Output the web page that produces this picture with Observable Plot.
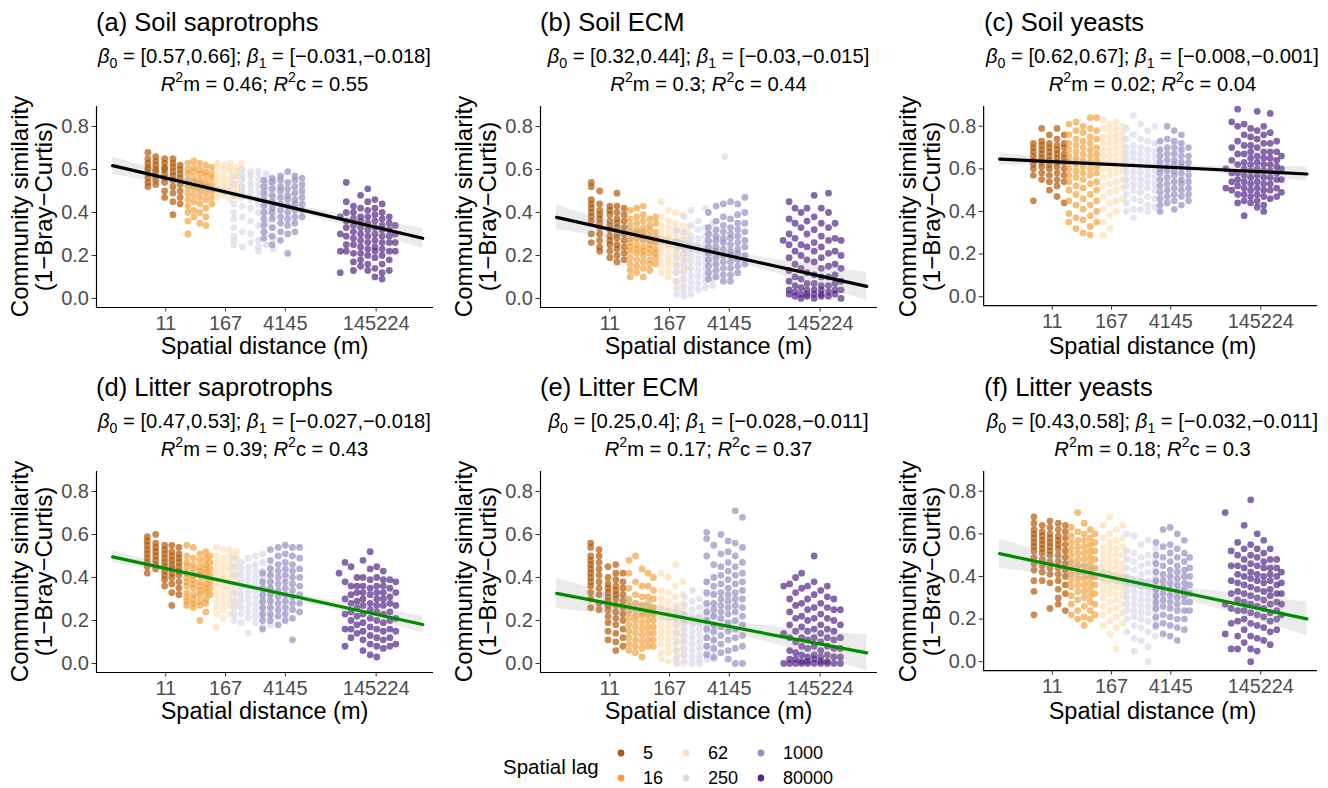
<!DOCTYPE html>
<html><head><meta charset="utf-8">
<script src="https://cdn.jsdelivr.net/npm/d3@7"></script>
<script src="https://cdn.jsdelivr.net/npm/@observablehq/plot@0.6"></script>
<style>
body{margin:0;background:#fff;}
#root{position:relative;width:1328px;height:788px;overflow:hidden;font-family:"Liberation Sans",Arial,sans-serif;}
.panel{position:absolute;}
#overlay{position:absolute;left:0;top:0;pointer-events:none;}
</style></head><body><div id="root"></div>
<script>
// ---------- categories / ticks ----------
const lags = ["5","16","62","250","1000","80000"];
const lagColors = ["#b35806","#f1a340","#fee0b6","#d8daeb","#998ec3","#542788"];
// x axis: position along the (transformed) distance axis; tick labels in metres
const distTicks = [0, 1, 2, 3.52];
const distLabels = ["11","167","4145","145224"];
const simTicks = [0, 0.2, 0.4, 0.6, 0.8];
const xDomain = [-1.16, 4.48];
const yDomain = [-0.042, 0.893];

const panelTitles = ["(a) Soil saprotrophs","(b) Soil ECM","(c) Soil yeasts",
                     "(d) Litter saprotrophs","(e) Litter ECM","(f) Litter yeasts"];
const beta0 = [[0.57,0.66],[0.32,0.44],[0.62,0.67],[0.47,0.53],[0.25,0.4],[0.43,0.58]];
const beta1 = [[-0.031,-0.018],[-0.03,-0.015],[-0.008,-0.001],[-0.027,-0.018],[-0.028,-0.011],[-0.032,-0.011]];
const r2m = [0.46,0.3,0.02,0.39,0.17,0.18];
const r2c = [0.55,0.44,0.04,0.43,0.37,0.3];

// fitted line (endpoints) and confidence band
const fitU = [-0.89, 4.30];
const fitV = [[0.618,0.280],[0.377,0.056],[0.646,0.576],[0.496,0.181],[0.326,0.049],[0.507,0.201]];
const bandU = [-0.89, 0.40, 1.70, 3.00, 4.30];
const bandLo = [[.578,.512,.437,.340,.233],[.320,.265,.196,.099,-.010],[.618,.614,.603,.576,.543],
                [.469,.403,.330,.240,.143],[.254,.217,.163,.072,-.034],[.439,.393,.330,.234,.121]];
const bandHi = [[.658,.556,.461,.390,.327],[.434,.329,.236,.173,.122],[.674,.644,.619,.612,.609],
                [.523,.433,.348,.280,.219],[.398,.297,.213,.164,.132],[.575,.469,.378,.322,.281]];

// ---------- points: [lag, x position, [similarity values in that column]] ----------
const soilSapro = [
 ["5",-0.30,[.68,.65,.63,.61,.60,.58,.56,.54,.52]],
 ["5",-0.17,[.66,.64,.62,.60,.59,.57,.55,.53]],
 ["5",-0.02,[.65,.63,.61,.60,.58,.56,.54,.50,.47]],
 ["5",0.12,[.65,.63,.61,.59,.57,.55,.52,.49,.45,.39]],
 ["5",0.24,[.62,.60,.58,.56,.53,.50,.47,.44]],
 ["16",0.37,[.63,.60,.58,.55,.52,.49,.46,.43,.40,.36,.30]],
 ["16",0.47,[.64,.61,.59,.56,.54,.51,.48,.45,.41,.38]],
 ["16",0.57,[.63,.60,.58,.55,.53,.50,.47,.44,.40,.35]],
 ["16",0.67,[.62,.59,.57,.54,.52,.49,.46,.42,.38,.34]],
 ["16",0.77,[.61,.58,.56,.53,.50,.47,.44]],
 ["62",0.86,[.63,.61,.58,.56,.54,.52,.49,.47]],
 ["62",0.97,[.62,.60,.57,.55,.53,.51,.48]],
 ["62",1.08,[.63,.61,.59,.56,.54,.52,.50,.46]],
 ["62",1.19,[.61,.59,.57,.55,.52,.50,.47]],
 ["62",1.27,[.63,.60,.56,.52,.49]],
 ["250",1.14,[.57,.53,.48,.44,.40,.37,.33,.29,.27,.25]],
 ["250",1.28,[.60,.57,.55,.52,.50,.47,.43,.38,.31,.24]],
 ["250",1.42,[.59,.57,.54,.52,.49,.46,.42,.36,.30,.26]],
 ["250",1.55,[.59,.56,.53,.50,.47,.44,.40,.34,.27,.24,.22]],
 ["250",1.68,[.58,.54,.51,.48,.44,.40,.35,.30,.25]],
 ["250",1.80,[.55,.51,.47,.43,.38,.33,.28,.23]],
 ["1000",1.64,[.55,.52,.49,.46,.43,.40,.37,.34,.31,.28]],
 ["1000",1.78,[.56,.54,.51,.48,.45,.42,.40,.37,.33,.29,.25]],
 ["1000",1.92,[.57,.55,.52,.50,.47,.44,.41,.38,.35,.31,.27]],
 ["1000",2.04,[.59,.54,.51,.48,.46,.43,.40,.37,.34,.30,.21]],
 ["1000",2.16,[.57,.55,.52,.49,.46,.44,.41,.38,.35,.31]],
 ["1000",2.28,[.56,.53,.50,.47,.44,.41,.38]],
 ["80000",2.92,[.38,.30,.22,.12]],
 ["80000",3.02,[.54,.45,.40,.36,.33,.29,.25,.22]],
 ["80000",3.14,[.43,.40,.37,.34,.31,.28,.25,.21,.17,.13]],
 ["80000",3.26,[.48,.42,.38,.36,.33,.30,.27,.24,.21,.18,.15]],
 ["80000",3.38,[.51,.45,.41,.38,.35,.32,.29,.26,.23,.20,.16,.13]],
 ["80000",3.50,[.46,.42,.39,.36,.33,.30,.27,.24,.22,.19,.14,.10]],
 ["80000",3.62,[.44,.40,.37,.34,.32,.29,.26,.23,.20,.16,.12,.09]],
 ["80000",3.74,[.38,.35,.32,.29,.26,.22,.18,.13]],
 ["80000",3.84,[.34,.30,.26,.22]]
];
const soilECM = [
 ["5",-0.31,[.54,.52,.46,.44,.42,.40,.38,.36,.30,.26]],
 ["5",-0.17,[.50,.44,.41,.39,.37,.35,.33,.30,.27,.24,.22]],
 ["5",0.00,[.43,.41,.39,.36,.34,.32,.29,.27,.25,.22,.19]],
 ["5",0.12,[.49,.43,.40,.37,.35,.33,.30,.28,.25,.23,.20,.17]],
 ["5",0.24,[.42,.39,.36,.33,.30,.27,.24,.21,.18]],
 ["16",0.34,[.41,.37,.34,.31,.28,.26,.24,.22,.19,.16,.13,.10]],
 ["16",0.45,[.42,.38,.35,.32,.30,.28,.25,.23,.21,.18,.15,.12]],
 ["16",0.56,[.43,.39,.36,.33,.31,.29,.27,.24,.22,.20,.17,.14,.10]],
 ["16",0.67,[.37,.34,.32,.29,.27,.25,.23,.21,.18,.16,.13]],
 ["16",0.77,[.38,.35,.31,.28,.26,.23,.21,.19,.16]],
 ["62",0.86,[.45,.38,.34,.31,.28,.26,.23,.21,.18,.15,.12]],
 ["62",0.98,[.41,.36,.33,.30,.28,.25,.23,.20,.18,.16,.13,.10]],
 ["62",1.10,[.40,.35,.32,.30,.27,.25,.22,.20,.17,.15,.12,.08]],
 ["62",1.22,[.39,.34,.31,.29,.26,.24,.21,.19,.16,.13,.09,.05]],
 ["62",1.31,[.33,.30,.27,.24,.21,.18,.14]],
 ["250",1.12,[.32,.27,.23,.19,.15,.12,.08,.05,.02]],
 ["250",1.24,[.38,.31,.27,.24,.21,.18,.15,.12,.09,.06,.03,.01]],
 ["250",1.36,[.41,.34,.29,.26,.23,.20,.17,.14,.11,.08,.05,.02]],
 ["250",1.48,[.36,.32,.28,.25,.22,.19,.16,.13,.10,.07,.04]],
 ["250",1.60,[.42,.33,.29,.26,.23,.20,.17,.14,.11,.08,.05]],
 ["250",1.72,[.35,.30,.26,.23,.19,.16,.12,.09,.06]],
 ["250",1.93,[.66]],
 ["1000",1.65,[.40,.33,.30,.27,.24,.21,.18,.15,.12,.09]],
 ["1000",1.78,[.43,.36,.32,.29,.27,.24,.22,.19,.16,.13,.10]],
 ["1000",1.90,[.44,.38,.34,.31,.28,.26,.23,.20,.17,.14,.11,.08]],
 ["1000",2.02,[.45,.37,.33,.30,.28,.25,.22,.20,.17,.14,.11,.08]],
 ["1000",2.14,[.44,.39,.35,.32,.29,.26,.23,.21,.18,.15,.12]],
 ["1000",2.26,[.47,.40,.35,.31,.27,.24,.20,.16]],
 ["80000",2.90,[.27]],
 ["80000",3.00,[.45,.37,.30,.25,.19,.13,.08,.04,.02]],
 ["80000",3.10,[.42,.35,.28,.22,.16,.10,.06,.03,.01]],
 ["80000",3.20,[.40,.33,.25,.20,.14,.09,.05,.02,.00]],
 ["80000",3.30,[.42,.36,.30,.24,.18,.12,.07,.04,.02,.01]],
 ["80000",3.42,[.48,.38,.32,.26,.22,.17,.11,.07,.04,.02,.00]],
 ["80000",3.54,[.42,.35,.29,.24,.19,.14,.10,.06,.04,.02,.01]],
 ["80000",3.66,[.49,.40,.33,.27,.21,.15,.10,.06,.03,.01]],
 ["80000",3.77,[.35,.28,.22,.16,.11,.07,.04,.02]],
 ["80000",3.87,[.27,.20,.14,.08,.04,.00]]
];
const soilYeast = [
 ["5",-0.32,[.72,.70,.68,.66,.64,.62,.60,.57,.45]],
 ["5",-0.18,[.79,.73,.71,.69,.67,.65,.63,.61,.58,.55]],
 ["5",-0.05,[.76,.72,.70,.68,.66,.64,.62,.60,.57,.54,.50]],
 ["5",0.08,[.79,.74,.71,.69,.67,.65,.63,.61,.58,.55,.52,.47]],
 ["5",0.20,[.76,.72,.70,.67,.65,.63,.60,.57,.54,.44]],
 ["16",0.28,[.81,.76,.72,.69,.66,.63,.60,.57,.54,.50,.45,.39,.35]],
 ["16",0.40,[.82,.78,.74,.71,.68,.65,.62,.59,.56,.52,.48,.43,.37,.32]],
 ["16",0.52,[.80,.77,.73,.70,.67,.64,.61,.58,.55,.51,.46,.41,.36,.30]],
 ["16",0.64,[.84,.79,.75,.72,.69,.66,.63,.60,.57,.53,.48,.43,.38,.33,.29]],
 ["16",0.75,[.84,.78,.74,.70,.67,.64,.61,.58,.54,.50,.45,.40,.35]],
 ["62",0.86,[.83,.79,.75,.72,.69,.66,.63,.60,.56,.52,.47,.41,.35,.29]],
 ["62",0.97,[.81,.78,.75,.72,.69,.66,.63,.60,.57,.53,.49,.44,.38,.32]],
 ["62",1.08,[.82,.79,.76,.73,.70,.67,.64,.61,.58,.54,.50,.45,.40]],
 ["62",1.19,[.80,.77,.74,.71,.68,.65,.62,.59,.55,.51,.46]],
 ["250",1.25,[.79,.74,.70,.67,.64,.61,.58,.55,.52,.48,.44,.40]],
 ["250",1.37,[.85,.76,.71,.68,.65,.62,.59,.56,.53,.50,.46,.41,.37]],
 ["250",1.49,[.81,.74,.70,.67,.64,.61,.58,.55,.52,.49,.45,.41]],
 ["250",1.61,[.78,.73,.69,.66,.63,.60,.57,.54,.51,.47,.43,.40]],
 ["250",1.73,[.80,.72,.68,.65,.62,.59,.56,.53,.50,.46,.42]],
 ["1000",1.82,[.73,.69,.66,.63,.60,.58,.55,.52,.49,.46,.43,.40]],
 ["1000",1.94,[.80,.74,.70,.67,.64,.61,.59,.56,.53,.50,.47,.44]],
 ["1000",2.06,[.78,.73,.70,.67,.64,.62,.59,.57,.54,.51,.48,.45,.41]],
 ["1000",2.18,[.76,.72,.69,.66,.63,.61,.58,.55,.53,.50,.47,.43]],
 ["1000",2.30,[.70,.66,.63,.60,.57,.54,.51,.48,.45]],
 ["80000",2.93,[.60,.51]],
 ["80000",3.03,[.82,.70,.64,.58,.54,.50]],
 ["80000",3.13,[.88,.80,.73,.67,.62,.58,.55,.52,.48,.44]],
 ["80000",3.24,[.81,.76,.71,.67,.63,.60,.57,.54,.51,.48,.45,.38]],
 ["80000",3.35,[.79,.75,.71,.68,.65,.62,.59,.56,.53,.50,.47,.44]],
 ["80000",3.46,[.87,.78,.74,.70,.66,.63,.60,.57,.54,.51,.48,.45,.42]],
 ["80000",3.57,[.80,.76,.72,.68,.65,.62,.59,.56,.53,.50,.47,.43,.40]],
 ["80000",3.68,[.86,.77,.72,.68,.65,.62,.59,.56,.53,.50,.46]],
 ["80000",3.79,[.73,.68,.64,.61,.58,.55,.51,.47]],
 ["80000",3.87,[.66,.60,.55,.49]]
];
const litterSapro = [
 ["5",-0.31,[.59,.57,.55,.53,.51,.49,.47,.45,.42]],
 ["5",-0.17,[.60,.56,.54,.52,.50,.48,.46,.44]],
 ["5",-0.02,[.55,.53,.51,.49,.47,.45,.43,.41,.39,.36]],
 ["5",0.10,[.55,.52,.50,.48,.46,.44,.42,.40,.37,.33,.27]],
 ["5",0.22,[.54,.51,.49,.47,.45,.43,.41,.38,.35,.32]],
 ["16",0.35,[.55,.50,.47,.45,.42,.40,.38,.36,.33,.31,.29,.27]],
 ["16",0.46,[.54,.49,.46,.44,.41,.39,.37,.35,.32,.30,.28,.26]],
 ["16",0.57,[.51,.48,.45,.43,.41,.38,.36,.34,.32,.29,.27,.20]],
 ["16",0.67,[.52,.49,.46,.44,.42,.40,.37,.35,.33,.30,.28,.24]],
 ["16",0.74,[.50,.47,.44,.41,.38,.35,.32]],
 ["62",0.85,[.54,.50,.47,.44,.42,.39,.37,.35,.32,.29,.26,.23,.17]],
 ["62",0.96,[.53,.49,.46,.44,.41,.39,.37,.34,.31,.28,.25,.21]],
 ["62",1.07,[.53,.50,.47,.45,.43,.40,.38,.36,.33,.30,.27,.23]],
 ["62",1.18,[.52,.49,.46,.43,.41,.38,.36,.33,.30,.27]],
 ["250",1.14,[.49,.45,.41,.37,.33,.29,.26,.23,.20]],
 ["250",1.26,[.47,.44,.41,.38,.35,.32,.29,.26,.23,.19]],
 ["250",1.38,[.49,.45,.42,.39,.36,.33,.30,.27,.24,.21,.14]],
 ["250",1.50,[.50,.46,.43,.40,.37,.34,.31,.28,.25,.22,.19]],
 ["250",1.62,[.51,.47,.43,.40,.37,.34,.31,.28,.25,.22,.17]],
 ["250",1.75,[.45,.41,.38,.35,.32,.29,.26,.22,.18]],
 ["1000",1.62,[.42,.38,.35,.32,.29,.26,.23,.20,.16]],
 ["1000",1.75,[.53,.48,.44,.41,.38,.35,.32,.29,.26,.23,.20]],
 ["1000",1.88,[.54,.50,.46,.43,.40,.37,.34,.31,.28,.25,.22,.18]],
 ["1000",2.00,[.55,.51,.47,.44,.41,.38,.35,.32,.29,.26,.23,.20]],
 ["1000",2.12,[.54,.50,.46,.43,.40,.37,.34,.31,.28,.25,.21,.11]],
 ["1000",2.24,[.54,.49,.44,.40,.36,.32,.28,.24]],
 ["80000",2.90,[.42]],
 ["80000",3.00,[.47,.38,.30,.23,.16,.08]],
 ["80000",3.10,[.45,.36,.32,.28,.24,.20,.16,.12]],
 ["80000",3.20,[.40,.36,.33,.29,.26,.22,.18,.14]],
 ["80000",3.30,[.48,.40,.36,.33,.30,.27,.23,.19,.15,.11,.06]],
 ["80000",3.42,[.52,.44,.39,.35,.32,.28,.25,.21,.17,.13,.09,.04]],
 ["80000",3.53,[.45,.40,.36,.33,.30,.27,.24,.20,.16,.12,.08,.03]],
 ["80000",3.64,[.43,.39,.36,.33,.30,.27,.23,.19,.15,.11,.07]],
 ["80000",3.75,[.39,.35,.31,.28,.24,.20,.16,.12,.08]],
 ["80000",3.85,[.38,.33,.27,.21,.15,.09]]
];
const litterECM = [
 ["5",-0.32,[.56,.54,.50,.48,.46,.44,.42,.40,.38,.36,.33,.30,.26]],
 ["5",-0.18,[.53,.50,.47,.44,.41,.38,.35,.32,.28,.25]],
 ["5",-0.03,[.45,.40,.37,.35,.33,.31,.29,.27,.25,.22,.19,.15,.11]],
 ["5",0.10,[.46,.42,.39,.36,.34,.32,.30,.27,.24,.21,.18,.14,.10,.06]],
 ["5",0.22,[.42,.38,.35,.32,.29,.26,.23,.20,.16,.12,.08]],
 ["16",0.32,[.48,.42,.35,.30,.27,.24,.21,.18,.15,.12,.09,.06]],
 ["16",0.43,[.50,.38,.32,.28,.25,.22,.20,.17,.14,.11,.08,.05]],
 ["16",0.54,[.44,.36,.31,.27,.24,.22,.19,.16,.13,.10,.07,.03]],
 ["16",0.64,[.42,.36,.31,.28,.25,.23,.20,.17,.14,.11,.08]],
 ["16",0.73,[.40,.34,.30,.26,.23,.20,.17,.14,.11,.08]],
 ["62",0.86,[.42,.34,.30,.27,.24,.21,.18,.15,.12,.09,.05,.02]],
 ["62",0.98,[.40,.33,.29,.26,.23,.20,.17,.14,.11,.08,.05,.01]],
 ["62",1.10,[.46,.36,.31,.27,.24,.21,.18,.15,.12,.09,.06,.02]],
 ["62",1.22,[.38,.32,.28,.25,.22,.19,.16,.13,.10,.07,.04,.00]],
 ["250",1.12,[.26,.22,.18,.14,.10,.06,.03,.00]],
 ["250",1.25,[.31,.27,.23,.19,.16,.13,.10,.07,.04,.01]],
 ["250",1.38,[.34,.29,.25,.21,.18,.15,.12,.09,.06,.03,.00]],
 ["250",1.50,[.30,.26,.22,.19,.16,.13,.10,.07,.04,.02,.00]],
 ["250",1.63,[.38,.32,.27,.23,.19,.15,.12,.08,.05,.02]],
 ["250",1.74,[.33,.27,.22,.18,.14,.10,.06,.02]],
 ["1000",1.62,[.61,.58,.50,.38,.33,.28,.24,.20,.16,.12,.08,.04]],
 ["1000",1.74,[.55,.46,.40,.36,.32,.28,.25,.22,.18,.15,.11,.07,.03]],
 ["1000",1.86,[.60,.51,.45,.41,.37,.33,.30,.27,.24,.21,.17,.13,.09,.05]],
 ["1000",1.98,[.57,.52,.47,.43,.39,.35,.32,.29,.26,.23,.19,.15,.11,.06,.02]],
 ["1000",2.10,[.71,.56,.50,.45,.41,.37,.33,.30,.27,.24,.20,.16,.12,.07,.00]],
 ["1000",2.22,[.68,.54,.47,.42,.38,.34,.30,.26,.22,.18,.13,.08,.00]],
 ["80000",2.91,[.36,.14,.00]],
 ["80000",3.01,[.37,.30,.24,.18,.12,.06,.02,.00]],
 ["80000",3.11,[.40,.33,.27,.21,.15,.10,.05,.02,.00]],
 ["80000",3.21,[.42,.35,.28,.22,.17,.12,.08,.04,.01,.00]],
 ["80000",3.31,[.36,.30,.25,.20,.15,.11,.07,.03,.01,.00]],
 ["80000",3.42,[.50,.38,.32,.26,.21,.16,.12,.08,.04,.02,.00]],
 ["80000",3.53,[.34,.28,.23,.18,.14,.10,.06,.03,.01,.00]],
 ["80000",3.64,[.36,.31,.26,.21,.16,.12,.08,.04,.01,.00]],
 ["80000",3.75,[.30,.25,.20,.15,.11,.07,.03,.00]],
 ["80000",3.86,[.25,.18,.12,.07,.03,.00]]
];
const litterYeast = [
 ["5",-0.31,[.68,.65,.62,.60,.58,.56,.54,.52,.49,.46,.43,.38,.33,.22]],
 ["5",-0.17,[.64,.61,.59,.57,.55,.53,.51,.48,.45,.42,.38]],
 ["5",-0.04,[.66,.63,.60,.58,.56,.54,.52,.50,.47,.44,.41,.37,.25]],
 ["5",0.10,[.65,.62,.59,.57,.55,.53,.50,.47,.44,.41,.38,.34,.30,.27]],
 ["5",0.22,[.64,.61,.58,.55,.52,.49,.46,.43,.40,.36,.32,.24]],
 ["16",0.32,[.63,.59,.56,.53,.50,.47,.44,.41,.38,.35,.31,.27,.22]],
 ["16",0.43,[.70,.61,.57,.54,.51,.48,.45,.42,.39,.36,.33,.29,.24,.20]],
 ["16",0.54,[.65,.60,.57,.54,.51,.48,.45,.42,.39,.36,.33,.30,.26,.21,.17]],
 ["16",0.64,[.62,.58,.55,.52,.49,.46,.43,.40,.37,.34,.31,.28,.24,.20]],
 ["16",0.72,[.60,.56,.52,.48,.44,.40,.36,.32,.27,.22]],
 ["62",0.86,[.64,.58,.54,.51,.48,.45,.42,.39,.36,.33,.30,.26,.22,.17]],
 ["62",0.97,[.68,.60,.56,.53,.50,.47,.44,.41,.38,.35,.32,.28,.24,.19,.13]],
 ["62",1.08,[.62,.57,.53,.50,.47,.44,.41,.38,.35,.32,.29,.25,.21,.16,.06]],
 ["62",1.19,[.64,.58,.54,.50,.46,.43,.40,.37,.34,.31,.27,.23,.18]],
 ["250",1.26,[.60,.52,.48,.44,.40,.36,.33,.30,.27,.24,.20,.14]],
 ["250",1.38,[.59,.51,.47,.43,.39,.36,.33,.30,.27,.24,.21,.17,.11,.05]],
 ["250",1.50,[.55,.49,.45,.41,.38,.35,.32,.29,.26,.23,.20,.16,.10]],
 ["250",1.62,[.57,.50,.46,.42,.38,.35,.32,.29,.26,.23,.19,.14,.07,.00]],
 ["250",1.74,[.53,.47,.43,.39,.36,.33,.30,.27,.24,.20,.16,.12]],
 ["1000",1.75,[.56,.50,.46,.42,.38,.34,.31,.28,.25,.21,.17]],
 ["1000",1.87,[.62,.54,.49,.45,.41,.38,.35,.32,.29,.26,.22,.18,.13]],
 ["1000",1.99,[.63,.55,.51,.47,.43,.40,.37,.34,.31,.28,.25,.21,.17,.12]],
 ["1000",2.11,[.60,.53,.49,.45,.42,.39,.36,.33,.30,.27,.24,.20,.16,.10]],
 ["1000",2.23,[.57,.51,.47,.43,.40,.37,.34,.31,.28,.24,.20,.15]],
 ["1000",2.32,[.49,.44,.40,.36,.32,.28,.24]],
 ["80000",2.92,[.70,.27,.13]],
 ["80000",3.02,[.52,.45,.38,.32,.25,.18,.06]],
 ["80000",3.13,[.56,.50,.45,.41,.37,.33,.29,.24,.19,.12,.06]],
 ["80000",3.24,[.64,.53,.48,.44,.40,.36,.32,.28,.24,.20,.15,.09]],
 ["80000",3.35,[.76,.55,.50,.46,.42,.39,.35,.31,.27,.23,.18,.12,.06,.00]],
 ["80000",3.46,[.60,.53,.49,.45,.41,.38,.34,.30,.26,.22,.17,.11,.05]],
 ["80000",3.57,[.57,.51,.47,.44,.40,.37,.33,.29,.25,.21,.16,.10]],
 ["80000",3.68,[.53,.48,.44,.41,.38,.34,.31,.27,.23,.19,.14,.08]],
 ["80000",3.79,[.48,.44,.40,.36,.32,.28,.24,.20,.15]],
 ["80000",3.87,[.42,.37,.32,.27,.22]]
];
const panelData = [soilSapro, soilECM, soilYeast, litterSapro, litterECM, litterYeast];
const lineColors = ["#000000", "#008B00"];

// ---------- layout ----------
const FONT = '"Liberation Sans", Arial, sans-serif';
const FW = 444, RH = 365, PTOP = 100;
const PW = 444, PH = 265, ML = 96, MR = 11, MT = 6, MB = 58;
const root = document.getElementById("root");

panelData.forEach((cols, i) => {
  const col = i % 3, row = Math.floor(i / 3);
  const pts = [];
  cols.forEach(([lag, u, ys]) => ys.forEach(v => pts.push({lag, u, v})));
  const band = bandU.map((u, j) => ({u, lo: bandLo[i][j], hi: bandHi[i][j]}));
  const fit = fitU.map((u, j) => ({u, v: fitV[i][j]}));
  const chart = Plot.plot({
    width: PW, height: PH,
    marginLeft: ML, marginRight: MR, marginTop: MT, marginBottom: MB,
    x: {domain: xDomain},
    y: {domain: yDomain},
    color: {domain: lags, range: lagColors},
    style: {fontFamily: FONT, fontSize: "20px", background: "transparent", overflow: "visible"},
    marks: [
      Plot.dot(pts, {x: "u", y: "v", fill: "lag", r: 3.4, fillOpacity: 0.7}),
      Plot.areaY(band, {x: "u", y1: "lo", y2: "hi", fill: "#999999", fillOpacity: 0.2, curve: "natural"}),
      Plot.line(fit, {x: "u", y: "v", stroke: lineColors[row], strokeWidth: 3.2}),
      Plot.axisX({ticks: distTicks, tickFormat: d => distLabels[distTicks.indexOf(d)],
                  tickSize: 4.5, tickPadding: 3.5, label: null, fill: "#4d4d4d", stroke: "#333333"}),
      Plot.axisY({ticks: simTicks, tickFormat: d3.format(".1f"),
                  tickSize: 4.5, tickPadding: 3, label: null, fill: "#4d4d4d", stroke: "#333333"}),
      Plot.ruleX([xDomain[0]], {stroke: "#000", strokeWidth: 1.2}),
      Plot.ruleY([yDomain[0]], {stroke: "#000", strokeWidth: 1.2})
    ]
  });
  const wrap = document.createElement("div");
  wrap.className = "panel";
  wrap.style.left = (col * FW) + "px";
  wrap.style.top = (PTOP + row * RH) + "px";
  wrap.appendChild(chart);
  root.appendChild(wrap);
});

// ---------- text overlay ----------
const svg = d3.select(root).append("svg").attr("id", "overlay")
  .attr("width", 1328).attr("height", 788).style("font-family", FONT);
const fmt = n => String(n).replace("-", "\u2212");

function richText(g, x, y, size, parts) {
  const t = g.append("text").attr("x", x).attr("y", y).attr("text-anchor", "middle")
    .attr("font-size", size).attr("fill", "#000");
  let shift = 0;
  parts.forEach(([s, kind]) => {
    const target = kind === "sub" ? 0.28 * size : kind === "sup" ? -0.42 * size : 0;
    const ts = t.append("tspan").text(s).attr("dy", target - shift);
    shift = target;
    if (kind === "sub" || kind === "sup") ts.attr("font-size", size * 0.7);
    if (kind === "i") ts.attr("font-style", "italic");
  });
}

panelTitles.forEach((title, i) => {
  const col = i % 3, row = Math.floor(i / 3);
  const fx = col * FW, fy = row * RH;
  const cx = fx + ML + (PW - ML - MR) / 2;
  const g = svg.append("g");
  g.append("text").attr("x", fx + 96).attr("y", fy + 30.5).attr("font-size", 25.5).attr("fill", "#000").text(title);
  richText(g, cx, fy + 62.5, 20.2, [
    ["\u03B2", "i"], ["0", "sub"], [` = [${fmt(beta0[i][0])},${fmt(beta0[i][1])}]; `, ""],
    ["\u03B2", "i"], ["1", "sub"], [` = [${fmt(beta1[i][0])},${fmt(beta1[i][1])}]`, ""]
  ]);
  richText(g, cx, fy + 90.5, 20.2, [
    ["R", "i"], ["2", "sup"], [`m = ${fmt(r2m[i])}; `, ""],
    ["R", "i"], ["2", "sup"], [`c = ${fmt(r2c[i])}`, ""]
  ]);
  // axis titles
  const yc = fy + PTOP + MT + (PH - MT - MB) / 2;
  g.append("text").attr("transform", `translate(${fx + 28},${yc}) rotate(-90)`)
    .attr("text-anchor", "middle").attr("font-size", 24).text("Community similarity");
  g.append("text").attr("transform", `translate(${fx + 52},${yc}) rotate(-90)`)
    .attr("text-anchor", "middle").attr("font-size", 24).text("(1\u2212Bray\u2212Curtis)");
  g.append("text").attr("x", cx).attr("y", fy + 354).attr("text-anchor", "middle")
    .attr("font-size", 23.5).text("Spatial distance (m)");
});

// ---------- legend ----------
const lg = svg.append("g");
lg.append("text").attr("x", 503).attr("y", 774).attr("font-size", 20.5).text("Spatial lag");
const legX = [621, 686, 761], legY = [753, 778];
lags.forEach((lab, k) => {
  const c = Math.floor(k / 2), r = k % 2;
  lg.append("circle").attr("cx", legX[c]).attr("cy", legY[r]).attr("r", 3.4).attr("fill", lagColors[k]);
  lg.append("text").attr("x", legX[c] + 22).attr("y", legY[r] + 6.3).attr("font-size", 18).text(lab);
});
</script></body></html>
